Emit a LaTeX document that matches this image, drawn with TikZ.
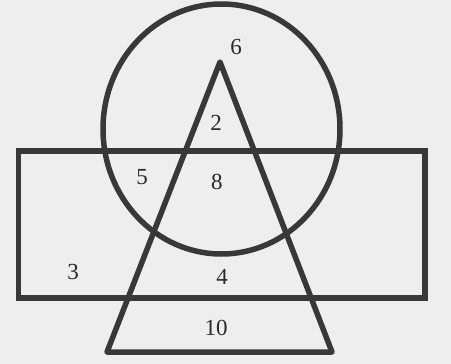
\documentclass[tikz,border=0pt]{standalone}
\usepackage{fontspec}
\setmainfont{Liberation Serif}
\definecolor{ink}{HTML}{383838}
\definecolor{textink}{HTML}{2A2A2A}
\definecolor{paper}{HTML}{EEEEEE}
\begin{document}
\begin{tikzpicture}[x=1pt,y=-1pt,
  shapeline/.style={draw=ink,line width=5.5pt,line join=round},
  num/.style={font=\fontsize{23}{23}\selectfont,text=textink,inner sep=0pt}]
\fill[paper] (0,0) rectangle (451,364);
\useasboundingbox (0,0) rectangle (451,364);
% rectangle
\draw[shapeline,line join=miter] (18.5,151) rectangle (425,298);
% circle (slightly tall)
\draw[shapeline] (221.5,129) ellipse [x radius=118.5, y radius=125];
% triangle
\draw[shapeline] (220,62) -- (332,352) -- (107,352) -- cycle;
% labels
\node[num] (n6) at (236,47) {6};
\node[num] (n2) at (216,123) {2};
\node[num] (n8) at (217,182) {8};
\node[num] (n5) at (142,177) {5};
\node[num] (n3) at (73,272) {3};
\node[num] (n4) at (222,277) {4};
\node[num] (n10) at (216,328) {10};
\end{tikzpicture}
\end{document}
